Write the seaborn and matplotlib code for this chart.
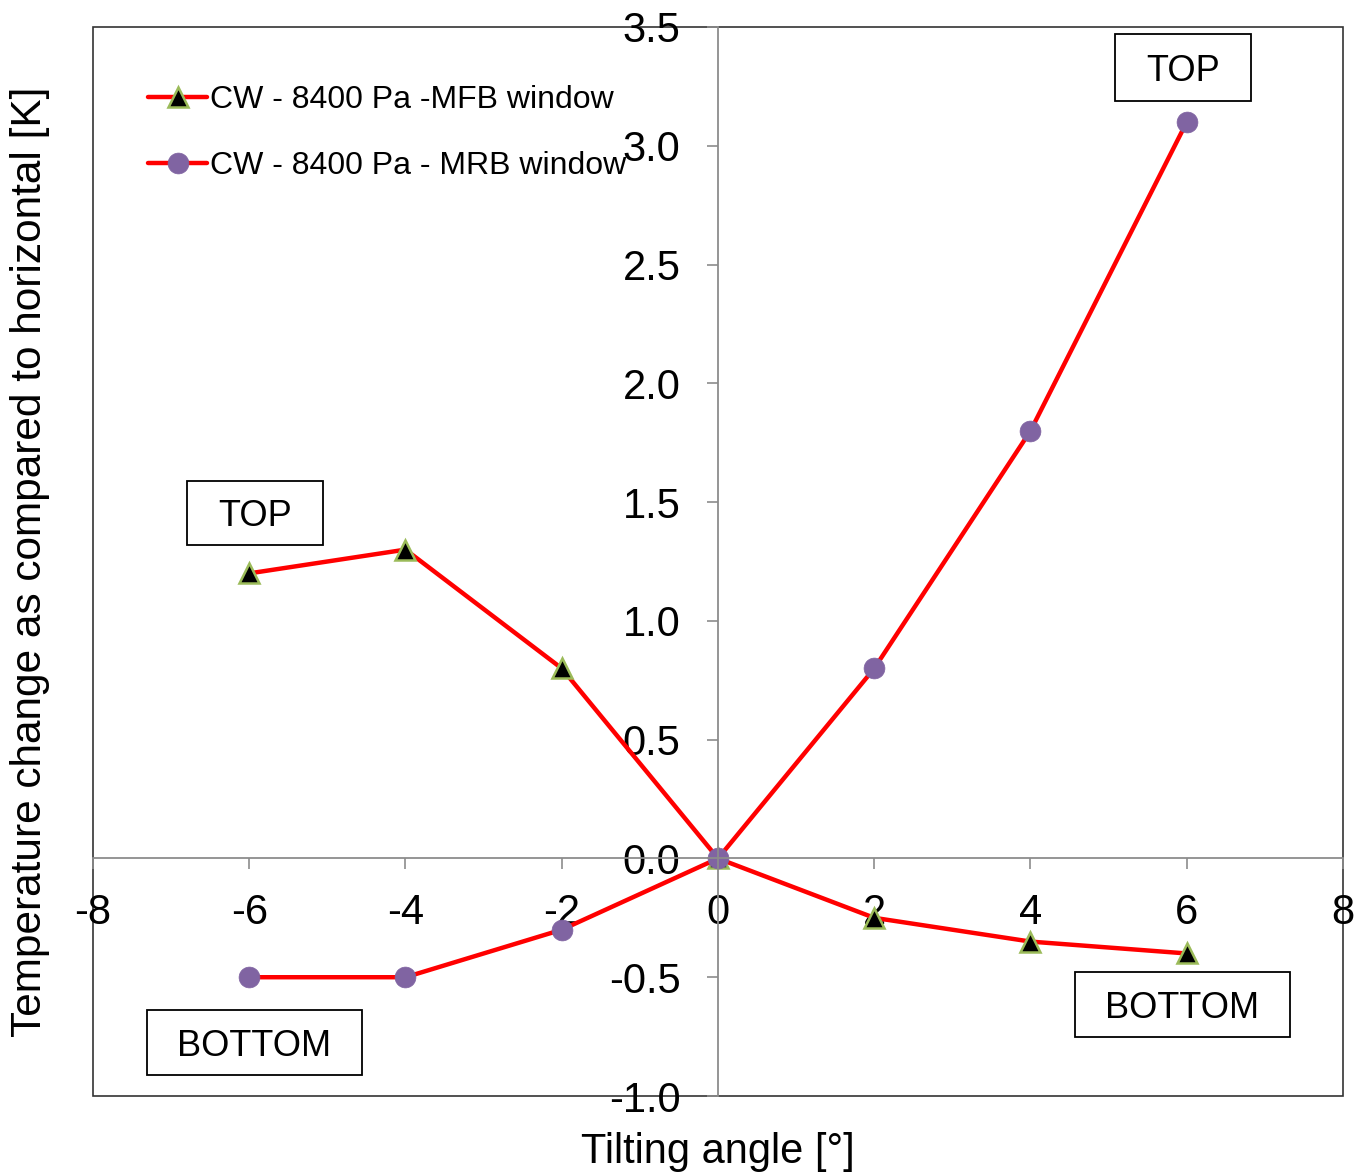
import matplotlib
matplotlib.use("Agg")
import matplotlib.pyplot as plt
from matplotlib.patches import Rectangle
import seaborn as sns

sns.set_theme(style="white")
plt.rcParams["font.family"] = ["Liberation Sans", "DejaVu Sans"]
plt.rcParams["text.color"] = "black"
plt.rcParams["axes.labelcolor"] = "black"

# Tilting angle [deg] and temperature change relative to horizontal [K]
angles = [-6, -4, -2, 0, 2, 4, 6]
mfb_window = [1.2, 1.3, 0.8, 0.0, -0.25, -0.35, -0.4]
mrb_window = [-0.5, -0.5, -0.3, 0.0, 0.8, 1.8, 3.1]
series_labels = ["CW - 8400 Pa -MFB window", "CW - 8400 Pa - MRB window"]

x_ticks = [-8, -6, -4, -2, 0, 2, 4, 6, 8]
y_ticks = [-1.0, -0.5, 0.0, 0.5, 1.0, 1.5, 2.0, 2.5, 3.0, 3.5]

# Position annotations: (text, x0, y0, x1, y1) in data units
position_boxes = [
    ("TOP", 5.08, 3.19, 6.82, 3.47),
    ("TOP", -6.80, 1.32, -5.06, 1.59),
    ("BOTTOM", -7.31, -0.91, -4.56, -0.64),
    ("BOTTOM", 4.57, -0.75, 7.32, -0.48),
]

fig = plt.figure(figsize=(13.56, 11.74), dpi=100)
ax = fig.add_axes([93 / 1356, 78 / 1174, 1250 / 1356, 1069 / 1174])

sns.lineplot(x=angles, y=mfb_window, ax=ax, color="#ff0000", lw=3.2,
             marker="^", markersize=14, markerfacecolor="black",
             markeredgecolor="#9bbb59", markeredgewidth=1.8,
             label=series_labels[0])
sns.lineplot(x=angles, y=mrb_window, ax=ax, color="#ff0000", lw=3.2,
             marker="o", markersize=15, markerfacecolor="#8064a2",
             markeredgecolor="#8064a2", markeredgewidth=0.5,
             label=series_labels[1])

ax.set_xlim(-8, 8)
ax.set_ylim(-1.0, 3.5)
ax.set_xticks(x_ticks)
ax.set_yticks(y_ticks)
ax.set_xticklabels([str(v) for v in x_ticks])
ax.set_yticklabels([f"{v:.1f}" for v in y_ticks])

# Axes crossing at the origin
for side in ("left", "bottom"):
    ax.spines[side].set_position(("data", 0))
    ax.spines[side].set_color("#8c8c8c")
    ax.spines[side].set_linewidth(1.3)
for side in ("top", "right"):
    ax.spines[side].set_visible(False)
ax.add_patch(Rectangle((0, 0), 1, 1, transform=ax.transAxes, fill=False,
                       edgecolor="#333333", linewidth=1.2, clip_on=False,
                       zorder=0.5))

ax.tick_params(axis="both", which="major", direction="out", length=8,
               width=1.2, color="#8c8c8c", labelsize=30, labelcolor="black")
ax.tick_params(axis="y", pad=19, left=True)
ax.tick_params(axis="x", pad=17, bottom=True)
ax.grid(False)

for txt, x0, y0, x1, y1 in position_boxes:
    ax.add_patch(Rectangle((x0, y0), x1 - x0, y1 - y0, fill=True,
                           facecolor="white", edgecolor="black",
                           linewidth=1.3, zorder=4))
    ax.text((x0 + x1) / 2, (y0 + y1) / 2, txt, ha="center",
            va="center_baseline", fontsize=26, color="black", zorder=5)

leg = ax.legend(loc="upper left", bbox_to_anchor=(0.044, 0.946),
                frameon=False, fontsize=23, handlelength=1.85,
                handletextpad=0.1, labelspacing=1.15, borderpad=0,
                borderaxespad=0)
for t in leg.get_texts():
    t.set_color("black")

fig.text(30 / 1356, 1 - 562 / 1174,
         "Temperature change as compared to horizontal [K]",
         rotation=90, ha="center", va="center", fontsize=30.5, color="black")
fig.text(718 / 1356, 1 - 1152 / 1174, "Tilting angle [°]",
         ha="center", va="center", fontsize=30, color="black")

fig.savefig("out.png", dpi=100, facecolor="white")
